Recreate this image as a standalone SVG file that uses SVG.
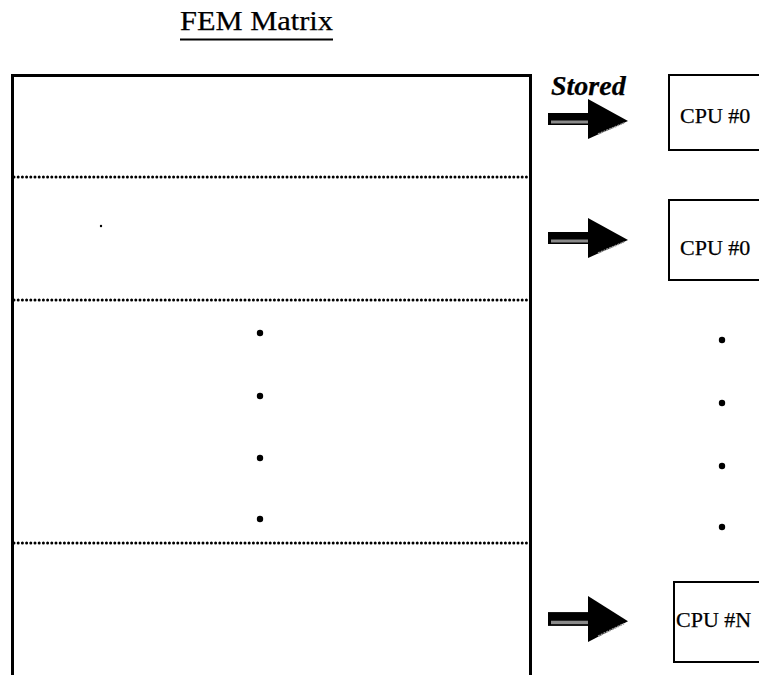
<svg xmlns="http://www.w3.org/2000/svg" xmlns:xlink="http://www.w3.org/1999/xlink" width="759" height="675" viewBox="0 0 759 675">
<style>
.serif{font-family:"Liberation Serif","Times New Roman",serif;fill:#000;stroke:#000;stroke-width:0.25}
.frame{fill:none;stroke:#000;stroke-width:3}
.sep{fill:none;stroke:#000;stroke-width:3;stroke-dasharray:0 4.2;stroke-linecap:round}
.box{fill:#fff;stroke:#000;stroke-width:2}
.dot{fill:#000}
.cpu{font-size:22px}
</style>
<defs>
<g id="arrow">
<rect x="0" y="-6" width="44" height="12" fill="#000"/>
<rect x="3" y="1.5" width="38" height="3" fill="#8a8a8a"/>
<polygon points="40,-20 80,2 40,20" fill="#000"/>
<line x1="50" y1="15" x2="76" y2="4" stroke="#9a9a9a" stroke-width="1.5" stroke-dasharray="2 1"/>
</g>
</defs>
<rect width="759" height="675" fill="#fff"/>
<g id="title">
<text class="serif" x="180" y="30" font-size="28" textLength="153" lengthAdjust="spacingAndGlyphs">FEM Matrix</text>
<line x1="180" y1="39.5" x2="333" y2="39.5" stroke="#000" stroke-width="1.8"/>
</g>
<g id="matrix">
<path class="frame" d="M12.5,680 V75.5 H530.5 V680"/>
<line class="sep" x1="14" y1="177" x2="529" y2="177"/>
<line class="sep" x1="14" y1="300" x2="529" y2="300"/>
<line class="sep" x1="14" y1="543" x2="529" y2="543"/>
<circle cx="101" cy="226" r="1.2" class="dot"/>
<circle cx="260" cy="333" r="3.2" class="dot"/>
<circle cx="260" cy="396" r="3.2" class="dot"/>
<circle cx="260" cy="458" r="3.2" class="dot"/>
<circle cx="260" cy="519" r="3.2" class="dot"/>
</g>
<g id="cpu0a">
<rect class="box" x="669" y="75" width="100" height="75"/>
<text class="serif cpu" x="680" y="123">CPU #0</text>
</g>
<g id="cpu0b">
<rect class="box" x="669" y="200" width="100" height="80"/>
<text class="serif cpu" x="680" y="255">CPU #0</text>
</g>
<g id="cpuDots">
<circle cx="722" cy="340" r="3.2" class="dot"/>
<circle cx="722" cy="403" r="3.2" class="dot"/>
<circle cx="722" cy="466" r="3.2" class="dot"/>
<circle cx="722" cy="527" r="3.2" class="dot"/>
</g>
<g id="cpuN">
<rect class="box" x="674" y="582" width="100" height="80"/>
<text class="serif cpu" x="676" y="627">CPU #N</text>
</g>
<g id="connectors">
<text class="serif" x="551" y="95" font-size="28" font-weight="bold" font-style="italic">Stored</text>
<use xlink:href="#arrow" transform="translate(548,119)"/>
<use xlink:href="#arrow" transform="translate(548,238)"/>
<use xlink:href="#arrow" transform="translate(548,619) scale(1,1.15)"/>
</g>
</svg>
